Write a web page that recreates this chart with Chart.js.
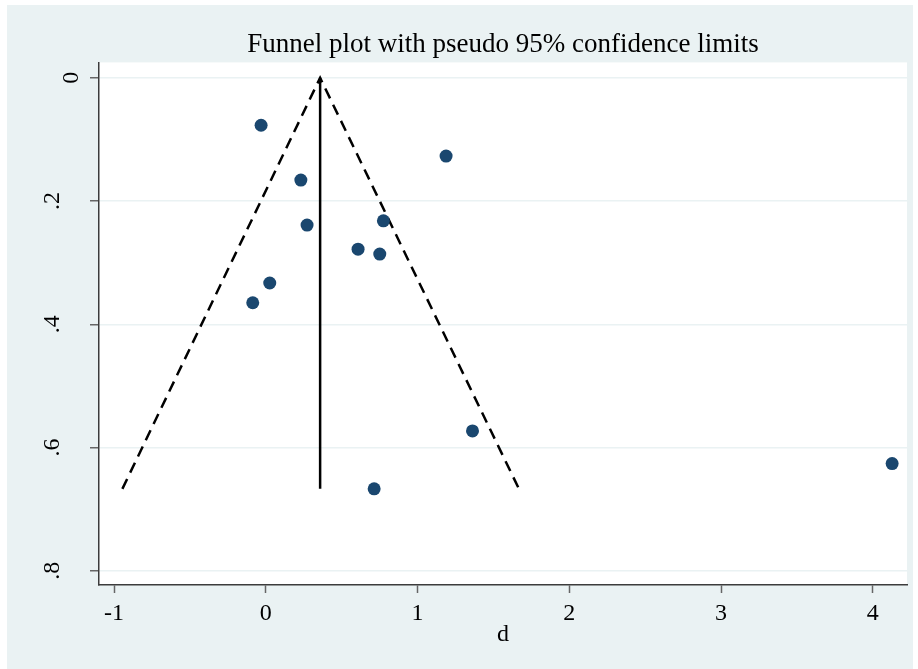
<!DOCTYPE html>
<html lang="en">
<head>
<meta charset="UTF-8">
<title>Funnel plot</title>
<script src="https://cdn.jsdelivr.net/npm/chart.js@4.4.1/dist/chart.umd.min.js"></script>
<style>
  body { margin: 0; background: #fff; }
  canvas { display: block; }
</style>
</head>
<body>
<canvas id="funnel" width="918" height="669"></canvas>
<script>
// study effect sizes (d) and their standard errors
var effectSize = [-0.031, 1.188, 0.231, 0.775, 0.272, 0.608, 0.751, 0.026, -0.086, 1.362, 4.127, 0.714];
var stdError   = [0.077, 0.127, 0.166, 0.232, 0.239, 0.278, 0.286, 0.333, 0.365, 0.573, 0.626, 0.667];

// pooled estimate and pseudo 95% limits at the largest s.e.
var pooledD = 0.358;
var maxSe = 0.667;
var lowerLimit = -0.945;
var upperLimit = 1.668;

var xTicks = [-1, 0, 1, 2, 3, 4];
var yTicks = [0, 0.2, 0.4, 0.6, 0.8];

var serif = 'Liberation Serif';
var bgColor = '#eaf2f3';

var studies = effectSize.map(function (d, i) { return { x: d, y: stdError[i] }; });

// stata-style graph region: light blue-grey frame, white plot area
var backdrop = {
  id: 'backdrop',
  beforeDraw: function (chart) {
    var ctx = chart.ctx, a = chart.chartArea;
    ctx.save();
    ctx.fillStyle = '#fff';
    ctx.fillRect(0, 0, chart.width, chart.height);
    ctx.fillStyle = bgColor;
    ctx.fillRect(7, 5, 906, 664);
    ctx.fillStyle = '#fff';
    ctx.fillRect(a.left, a.top, a.right - a.left, a.bottom - a.top);
    ctx.restore();
  }
};

new Chart(document.getElementById('funnel'), {
  type: 'scatter',
  data: {
    datasets: [{
      label: 'Studies',
      data: studies,
      backgroundColor: '#1a476f',
      borderWidth: 0,
      pointRadius: 6.5,
      order: 0
    }, {
      label: 'Pooled',
      data: [{ x: pooledD, y: 0 }, { x: pooledD, y: maxSe }],
      showLine: true,
      borderColor: '#000',
      borderWidth: 2.5,
      pointRadius: 0,
      order: 1
    }, {
      label: 'Limits',
      data: [{ x: lowerLimit, y: maxSe }, { x: pooledD, y: 0 }, { x: upperLimit, y: maxSe }],
      showLine: true,
      borderColor: '#000',
      borderWidth: 2.5,
      borderDash: [11, 7],
      pointRadius: 0,
      order: 2
    }]
  },
  options: {
    responsive: false,
    animation: false,
    layout: { padding: { left: 0, right: 11, top: 0, bottom: 0 } },
    plugins: {
      legend: { display: false },
      tooltip: { enabled: false },
      title: {
        display: true,
        text: 'Funnel plot with pseudo 95% confidence limits',
        fullSize: false,
        color: '#000',
        font: { family: serif, size: 27, weight: 'normal' },
        padding: { top: 29, bottom: 1 }
      }
    },
    scales: {
      x: {
        type: 'linear',
        min: -1.099,
        max: 4.225,
        afterBuildTicks: function (s) { s.ticks = xTicks.map(function (v) { return { value: v }; }); },
        afterFit: function (s) { s.height = 84; },
        border: { color: '#3c3c3c', width: 1.5 },
        grid: { drawOnChartArea: false, tickLength: 8, tickColor: '#666', tickWidth: 1.5 },
        ticks: {
          color: '#000',
          padding: 6,
          font: { family: serif, size: 24 },
          maxRotation: 0,
          callback: function (v) { return String(v); }
        },
        title: {
          display: true,
          text: 'd',
          color: '#000',
          font: { family: serif, size: 24 },
          padding: { top: 0, bottom: 20 }
        }
      },
      y: {
        type: 'linear',
        reverse: true,
        min: -0.025,
        max: 0.823,
        afterBuildTicks: function (s) { s.ticks = yTicks.map(function (v) { return { value: v }; }); },
        afterFit: function (s) { s.width = 99; },
        border: { color: '#3c3c3c', width: 1.5 },
        grid: { color: bgColor, lineWidth: 1.5, tickLength: 9, tickColor: '#666', tickWidth: 1.5 },
        ticks: {
          color: '#000',
          padding: 9,
          crossAlign: 'center',
          minRotation: 90,
          maxRotation: 90,
          font: { family: serif, size: 24, lineHeight: 1.6 },
          // fractional labels (".2" etc.) sit one line further out than "0"
          callback: function (v) {
            if (v === 0) return '0';
            return [String(Math.round(v * 10) / 10).replace(/^0/, ''), ''];
          }
        }
      }
    }
  },
  plugins: [backdrop]
});
</script>
</body>
</html>
